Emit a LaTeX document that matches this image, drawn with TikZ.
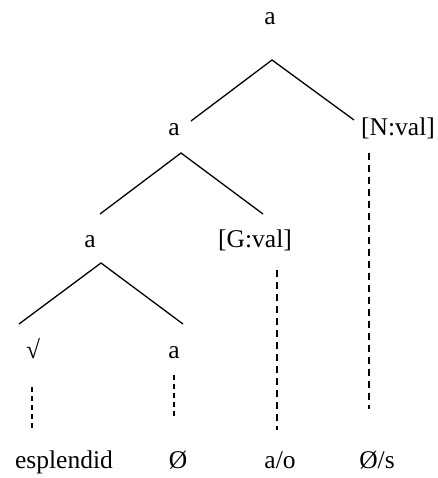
\documentclass[tikz,border=0pt]{standalone}
\usepackage{fontspec}
\setmainfont{Liberation Serif}
\begin{document}
\begin{tikzpicture}[x=1pt,y=-1pt,
  lbl/.style={anchor=base,inner sep=0pt,font=\fontsize{25.5}{30}\selectfont},
  branch/.style={line width=1.3pt},
  thickdash/.style={line width=2pt,dash pattern=on 7pt off 5pt},
  thindash/.style={line width=1.5pt,dash pattern=on 5pt off 4pt}]
\useasboundingbox (0,0) rectangle (437,478);
% labels
\node[lbl] (top) at (270,25) {a};
\node[lbl] (a2) at (174,136) {a};
\node[lbl] (nval) at (398,136) {[N:val]};
\node[lbl] (a3) at (90,247) {a};
\node[lbl] (gval) at (255,247) {[G:val]};
\node[lbl] (root) at (33,358) {√};
\node[lbl] (a4) at (174,358) {a};
\node[lbl] (esp) at (64,468) {esplendid};
\node[lbl] (zero) at (178,468) {Ø};
\node[lbl] (ao) at (280,468) {a/o};
\node[lbl] (zs) at (377,468) {Ø/s};
% branch coordinates
\coordinate (t1) at (272,60);
\coordinate (t1l) at (191,121);
\coordinate (t1r) at (354,120);
\coordinate (t2) at (181,153);
\coordinate (t2l) at (100,214);
\coordinate (t2r) at (263,214);
\coordinate (t3) at (101,263);
\coordinate (t3l) at (19,324);
\coordinate (t3r) at (183,324);
\draw[branch] (t1l) -- (t1) -- (t1r);
\draw[branch] (t2l) -- (t2) -- (t2r);
\draw[branch] (t3l) -- (t3) -- (t3r);
% dashed links
\coordinate (n1) at (369,153);
\coordinate (n2) at (369,409);
\coordinate (g1) at (277,270);
\coordinate (g2) at (277,430);
\coordinate (r1) at (32,387);
\coordinate (r2) at (32,429);
\coordinate (q1) at (174,375);
\coordinate (q2) at (174,417);
\draw[thickdash] (n1) -- (n2);
\draw[thickdash] (g1) -- (g2);
\draw[thindash] (r1) -- (r2);
\draw[thindash] (q1) -- (q2);
\end{tikzpicture}
\end{document}
